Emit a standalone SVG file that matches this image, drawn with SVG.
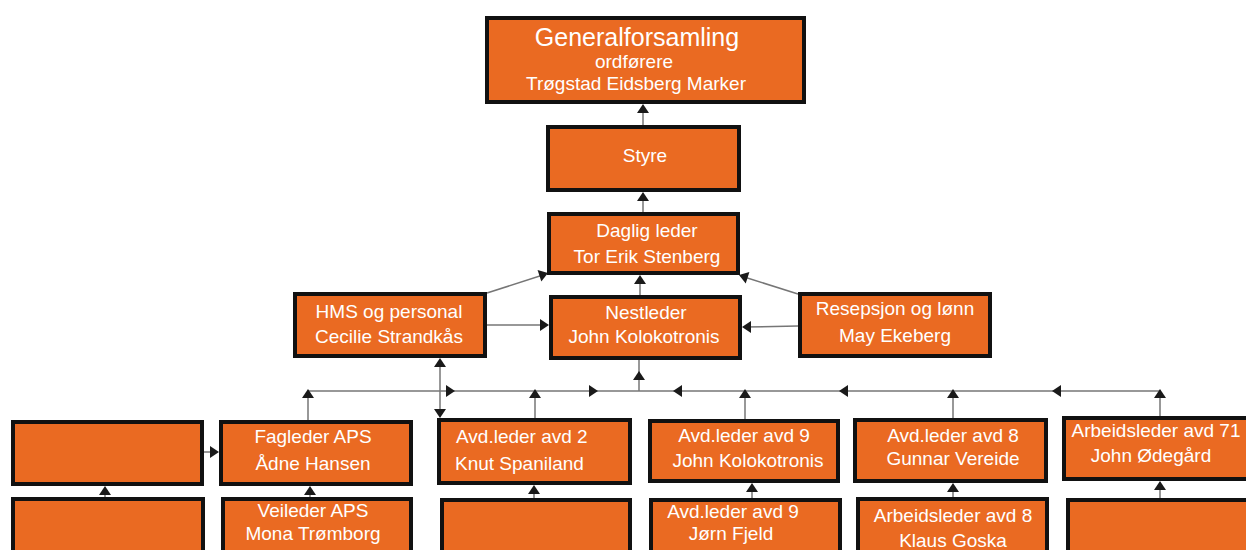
<svg xmlns="http://www.w3.org/2000/svg" xmlns:xlink="http://www.w3.org/1999/xlink" width="1246" height="550" viewBox="0 0 1246 550">
<style>
.box{fill:#EA6A22;stroke:#111;stroke-width:4}
.t{font-family:"Liberation Sans",Arial,sans-serif;font-size:19px;fill:#fff;text-anchor:middle}
.ts{font-family:"Liberation Sans",Arial,sans-serif;font-size:19px;fill:#fff;text-anchor:start}
.big{font-size:25px}
.ln{stroke:#767676;stroke-width:1.5;fill:none}
.ah{fill:#1a1a1a}
</style>
<defs>
<path id="ah" class="ah" d="M0,0 L-9,-6 L-9,6 Z"/>
</defs>
<rect width="1246" height="550" fill="#fff"/>

<g id="connectors">
<line class="ln" x1="643" y1="125" x2="643" y2="106"/>
<use xlink:href="#ah" transform="translate(643,104) rotate(-90)"/>
<line class="ln" x1="643" y1="212" x2="643" y2="194"/>
<use xlink:href="#ah" transform="translate(643,192) rotate(-90)"/>
<line class="ln" x1="640" y1="295" x2="640" y2="277"/>
<use xlink:href="#ah" transform="translate(640,275) rotate(-90)"/>
<line class="ln" x1="487" y1="293" x2="546" y2="274"/>
<use xlink:href="#ah" transform="translate(548,273) rotate(-18.2)"/>
<line class="ln" x1="798" y1="294" x2="741" y2="276"/>
<use xlink:href="#ah" transform="translate(739,275) rotate(197.8)"/>
<line class="ln" x1="487" y1="325" x2="547" y2="325"/>
<use xlink:href="#ah" transform="translate(549,325)"/>
<line class="ln" x1="798" y1="326" x2="744" y2="327"/>
<use xlink:href="#ah" transform="translate(742,327) rotate(180)"/>
<line class="ln" x1="639" y1="360" x2="639" y2="391"/>
<use xlink:href="#ah" transform="translate(639,371) rotate(-90)"/>
<line class="ln" x1="308" y1="391" x2="1160" y2="391"/>
<use xlink:href="#ah" transform="translate(455,391)"/>
<use xlink:href="#ah" transform="translate(598,391)"/>
<use xlink:href="#ah" transform="translate(673,391) rotate(180)"/>
<use xlink:href="#ah" transform="translate(839,391) rotate(180)"/>
<use xlink:href="#ah" transform="translate(1052,391) rotate(180)"/>
<line class="ln" x1="308" y1="420" x2="308" y2="391"/>
<use xlink:href="#ah" transform="translate(308,389) rotate(-90)"/>
<line class="ln" x1="535" y1="418" x2="535" y2="391"/>
<use xlink:href="#ah" transform="translate(535,389) rotate(-90)"/>
<line class="ln" x1="745" y1="419" x2="745" y2="391"/>
<use xlink:href="#ah" transform="translate(745,389) rotate(-90)"/>
<line class="ln" x1="953" y1="418" x2="953" y2="391"/>
<use xlink:href="#ah" transform="translate(953,389) rotate(-90)"/>
<line class="ln" x1="1160" y1="416" x2="1160" y2="391"/>
<use xlink:href="#ah" transform="translate(1160,389) rotate(-90)"/>
<line class="ln" x1="440" y1="360" x2="440" y2="416"/>
<use xlink:href="#ah" transform="translate(440,358) rotate(-90)"/>
<use xlink:href="#ah" transform="translate(440,418) rotate(90)"/>
<line class="ln" x1="204" y1="452" x2="217" y2="452"/>
<use xlink:href="#ah" transform="translate(219,452)"/>
<line class="ln" x1="105" y1="497" x2="105" y2="488"/>
<use xlink:href="#ah" transform="translate(105,486) rotate(-90)"/>
<line class="ln" x1="310" y1="497" x2="310" y2="488"/>
<use xlink:href="#ah" transform="translate(310,486) rotate(-90)"/>
<line class="ln" x1="534" y1="498" x2="534" y2="487"/>
<use xlink:href="#ah" transform="translate(534,485) rotate(-90)"/>
<line class="ln" x1="752" y1="498" x2="752" y2="485"/>
<use xlink:href="#ah" transform="translate(752,483) rotate(-90)"/>
<line class="ln" x1="953" y1="497" x2="953" y2="485"/>
<use xlink:href="#ah" transform="translate(953,483) rotate(-90)"/>
<line class="ln" x1="1160" y1="498" x2="1160" y2="483"/>
<use xlink:href="#ah" transform="translate(1160,481) rotate(-90)"/>
</g>

<g id="generalforsamling">
<rect class="box" x="487" y="18" width="317" height="84"/>
<text class="t big" x="637" y="46">Generalforsamling</text>
<text class="t" x="634" y="68">ordførere</text>
<text class="t" x="636" y="90">Trøgstad Eidsberg Marker</text>
</g>
<g id="styre">
<rect class="box" x="548" y="127" width="191" height="63"/>
<text class="t" x="645" y="162">Styre</text>
</g>
<g id="daglig-leder">
<rect class="box" x="549" y="214" width="189" height="59"/>
<text class="t" x="647" y="237">Daglig leder</text>
<text class="t" x="647" y="263">Tor Erik Stenberg</text>
</g>
<g id="nestleder">
<rect class="box" x="551" y="297" width="189" height="61"/>
<text class="t" x="646" y="319">Nestleder</text>
<text class="t" x="644" y="343">John Kolokotronis</text>
</g>
<g id="hms">
<rect class="box" x="295" y="294" width="190" height="62"/>
<text class="t" x="389" y="318">HMS og personal</text>
<text class="t" x="389" y="343">Cecilie Strandkås</text>
</g>
<g id="resepsjon">
<rect class="box" x="800" y="294" width="190" height="62"/>
<text class="t" x="895" y="315">Resepsjon og lønn</text>
<text class="t" x="895" y="342">May Ekeberg</text>
</g>
<g id="empty-top-left">
<rect class="box" x="13" y="422" width="189" height="62"/>
</g>
<g id="fagleder">
<rect class="box" x="221" y="422" width="190" height="62"/>
<text class="t" x="313" y="443">Fagleder APS</text>
<text class="t" x="313" y="470">Ådne Hansen</text>
</g>
<g id="avd2">
<rect class="box" x="439" y="420" width="191" height="63"/>
<text class="ts" x="456" y="443">Avd.leder avd 2</text>
<text class="ts" x="455" y="470">Knut Spaniland</text>
</g>
<g id="avd9-jk">
<rect class="box" x="650" y="421" width="188" height="60"/>
<text class="t" x="744" y="442">Avd.leder avd 9</text>
<text class="t" x="748" y="467">John Kolokotronis</text>
</g>
<g id="avd8">
<rect class="box" x="855" y="420" width="191" height="61"/>
<text class="t" x="953" y="442">Avd.leder avd 8</text>
<text class="t" x="953" y="465">Gunnar Vereide</text>
</g>
<g id="avd71">
<rect class="box" x="1064" y="418" width="194" height="61"/>
<text class="t" x="1156" y="437">Arbeidsleder avd 71</text>
<text class="t" x="1151" y="462">John Ødegård</text>
</g>
<g id="empty-bottom-left">
<rect class="box" x="13" y="499" width="190" height="70"/>
</g>
<g id="veileder">
<rect class="box" x="223" y="499" width="188" height="70"/>
<text class="t" x="313" y="517">Veileder APS</text>
<text class="t" x="313" y="540">Mona Trømborg</text>
</g>
<g id="empty-avd2-bottom">
<rect class="box" x="442" y="500" width="188" height="70"/>
</g>
<g id="avd9-jf">
<rect class="box" x="651" y="500" width="189" height="70"/>
<text class="t" x="733" y="518">Avd.leder avd 9</text>
<text class="t" x="731" y="540">Jørn Fjeld</text>
</g>
<g id="arb8">
<rect class="box" x="858" y="499" width="189" height="70"/>
<text class="t" x="953" y="522">Arbeidsleder avd 8</text>
<text class="t" x="953" y="547">Klaus Goska</text>
</g>
<g id="empty-bottom-right">
<rect class="box" x="1068" y="500" width="190" height="70"/>
</g>
</svg>
